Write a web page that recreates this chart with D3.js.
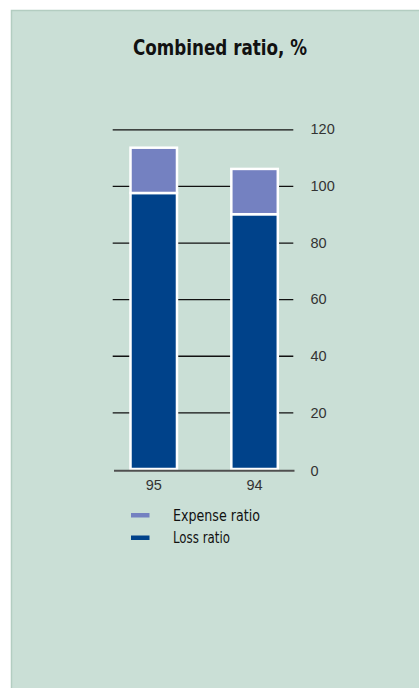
<!DOCTYPE html>
<html>
<head>
<meta charset="utf-8">
<script src="https://cdn.jsdelivr.net/npm/d3@7/dist/d3.min.js"></script>
<style>
  html, body { margin: 0; padding: 0; background: #ffffff; }
  svg { display: block; }
</style>
</head>
<body>
<svg id="chart" width="419" height="688"></svg>
<script>
// Combined ratio by year, split into loss and expense components
const years = ["95", "94"];
const lossRatio = [97.5, 90];
const expenseRatio = [16, 16];
const yTicks = [0, 20, 40, 60, 80, 100, 120];
const seriesNames = ["Expense ratio", "Loss ratio"];
const seriesColors = ["#7481c1", "#00428a"];

const svg = d3.select("#chart");
const W = 419, H = 688;

// panel background
svg.append("rect")
  .attr("x", 11).attr("y", 10).attr("width", W - 11).attr("height", H - 10)
  .attr("fill", "#cadfd6");
svg.append("path")
  .attr("d", `M11.5,${H} V10.5 H${W}`)
  .attr("fill", "none").attr("stroke", "#b3cdc1").attr("stroke-width", 1.5);

// title
svg.append("text")
  .attr("x", 220).attr("y", 55)
  .attr("text-anchor", "middle")
  .attr("font-family", "'DejaVu Sans Condensed', 'DejaVu Sans', sans-serif")
  .attr("font-stretch", "condensed")
  .attr("font-weight", "bold")
  .attr("font-size", 22)
  .attr("textLength", 174)
  .attr("lengthAdjust", "spacingAndGlyphs")
  .attr("fill", "#111")
  .text("Combined ratio, %");

const y = d3.scaleLinear().domain([0, 120]).range([469, 129.3]);
const x = d3.scaleBand().domain(years).range([130.5, 277.8]).paddingInner(0.539).paddingOuter(0);

// horizontal grid lines
const gridAxis = d3.axisRight(y).tickValues(yTicks.filter(d => d > 0)).tickSize(180.6).tickFormat("");
const grid = svg.append("g").attr("transform", "translate(112.7,0)").call(gridAxis);
grid.select(".domain").remove();
grid.selectAll(".tick line").attr("stroke", "#111").attr("stroke-width", 1.3);

// tick labels on the right
const labelAxis = d3.axisRight(y).tickValues(yTicks).tickSize(0).tickPadding(0);
const labels = svg.append("g").attr("transform", "translate(310.5,0)").call(labelAxis);
labels.select(".domain").remove();
labels.selectAll(".tick text")
  .attr("font-family", "'Liberation Sans', Arial, sans-serif")
  .attr("font-size", 14.5)
  .attr("fill", "#333")
  .attr("dy", d => d === 0 ? "0.45em" : "0.32em");

// stacked bars
const stackData = years.map((yr, i) => ({ year: yr, loss: lossRatio[i], expense: expenseRatio[i] }));
const stack = d3.stack().keys(["loss", "expense"])(stackData);
const colorByKey = { loss: seriesColors[1], expense: seriesColors[0] };

svg.append("g").selectAll("g")
  .data(stack)
  .join("g")
  .attr("fill", d => colorByKey[d.key])
  .selectAll("rect")
  .data(d => d)
  .join("rect")
  .attr("x", d => x(d.data.year))
  .attr("width", x.bandwidth())
  .attr("y", d => y(d[1]))
  .attr("height", d => y(d[0]) - y(d[1]))
  .attr("stroke", "#ffffff")
  .attr("stroke-width", 2.5);

// baseline
svg.append("line")
  .attr("x1", 114).attr("x2", 294.5)
  .attr("y1", y(0) + 1.8).attr("y2", y(0) + 1.8)
  .attr("stroke", "#505050").attr("stroke-width", 2);

// category labels
const xAxis = d3.axisBottom(x).tickSize(0).tickPadding(0);
const xg = svg.append("g").attr("transform", `translate(0,${y(0) + 11})`).call(xAxis);
xg.select(".domain").remove();
xg.selectAll(".tick text")
  .attr("font-family", "'Liberation Sans', Arial, sans-serif")
  .attr("font-size", 14.5)
  .attr("fill", "#333")
  .attr("dy", "0.71em");

// legend
const legend = svg.append("g");
seriesNames.forEach((name, i) => {
  const cy = 515 + i * 22.5;
  legend.append("rect")
    .attr("x", 131).attr("y", cy - 2).attr("width", 18.5).attr("height", 4.5)
    .attr("fill", seriesColors[i]);
  legend.append("text")
    .attr("x", 173).attr("y", cy + 5.5)
    .attr("font-family", "'DejaVu Sans Condensed', 'DejaVu Sans', sans-serif")
    .attr("font-stretch", "condensed")
    .attr("font-size", 15)
    .attr("textLength", name.length > 10 ? 87 : 57)
    .attr("lengthAdjust", "spacingAndGlyphs")
    .attr("fill", "#111")
    .text(name);
});
</script>
</body>
</html>
